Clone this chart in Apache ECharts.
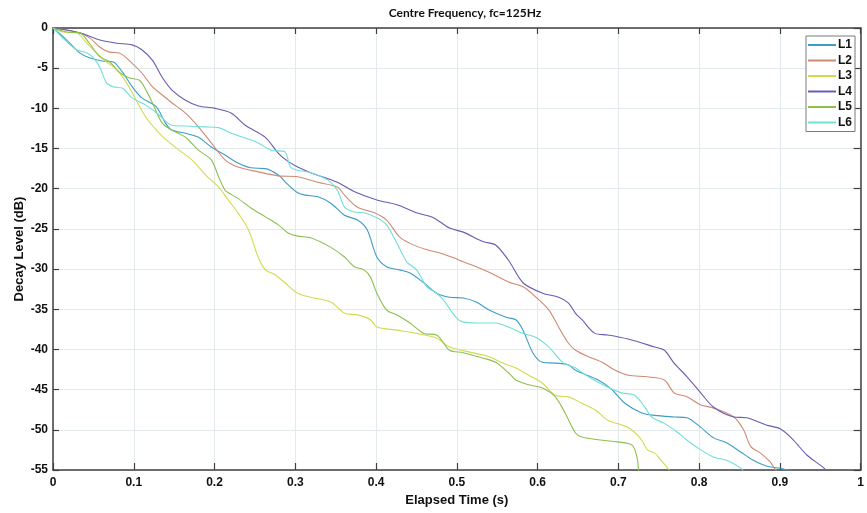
<!DOCTYPE html>
<html>
<head>
<meta charset="utf-8">
<script src="https://cdn.jsdelivr.net/npm/echarts@6/dist/echarts.min.js"></script>
<style>
html,body{margin:0;padding:0;background:#fff;}
#chart{width:867px;height:513px;}
</style>
</head>
<body>
<div id="chart"></div>
<script>
// Tick values
var xTicks = [0, 0.1, 0.2, 0.3, 0.4, 0.5, 0.6, 0.7, 0.8, 0.9, 1];
var yTicks = [0, -5, -10, -15, -20, -25, -30, -35, -40, -45, -50, -55];
var seriesNames = ['L1', 'L2', 'L3', 'L4', 'L5', 'L6'];

// L1
var l1T = [0,0.017,0.033,0.045,0.061,0.074,0.086,0.098,0.110,0.128,0.139,0.147,0.164,0.180,0.196,0.213,0.229,0.245,0.263,0.279,0.291,0.303,0.312,0.328,0.344,0.361,0.377,0.389,0.401,0.413,0.429,0.442,0.459,0.475,0.491,0.508,0.524,0.540,0.561,0.573,0.582,0.594,0.606,0.622,0.638,0.647,0.675,0.692,0.708,0.729,0.745,0.769,0.785,0.802,0.818,0.834,0.852,0.867,0.883,0.901,0.915];
var l1Y = [0,-1.5,-3.1,-3.7,-4.1,-4.2,-5.5,-7.3,-8.7,-9.8,-11.8,-12.7,-13.1,-13.6,-14.8,-15.8,-16.8,-17.4,-17.5,-18.3,-19.5,-20.5,-20.8,-21.0,-21.8,-23.3,-23.9,-25.1,-28.5,-29.7,-30.1,-30.5,-31.7,-33.0,-33.5,-33.6,-34.1,-35.1,-36.0,-36.3,-37.6,-40.4,-41.6,-41.7,-41.9,-42.6,-43.8,-45.0,-46.7,-47.9,-48.2,-48.4,-48.5,-49.7,-51.0,-51.6,-52.8,-53.8,-54.5,-54.8,-55.2];
// L2
var l2T = [0,0.029,0.045,0.058,0.070,0.082,0.098,0.110,0.123,0.135,0.147,0.164,0.180,0.196,0.213,0.229,0.254,0.279,0.303,0.328,0.352,0.361,0.377,0.398,0.413,0.429,0.442,0.463,0.479,0.496,0.508,0.524,0.540,0.564,0.582,0.598,0.614,0.626,0.638,0.647,0.663,0.680,0.696,0.712,0.736,0.757,0.769,0.785,0.802,0.818,0.843,0.855,0.864,0.876,0.888,0.894,0.898];
var l2Y = [0,-0.5,-1.2,-2.4,-3.0,-3.1,-4.4,-5.6,-7.3,-8.3,-9.3,-10.6,-12.3,-14.3,-16.4,-17.3,-17.9,-18.4,-18.5,-19.2,-19.8,-20.8,-22.3,-23.0,-23.9,-26.0,-26.8,-27.6,-28.0,-28.6,-29.1,-29.7,-30.4,-31.6,-32.2,-33.5,-35.1,-37.2,-39.2,-40.1,-40.9,-41.6,-42.6,-43.2,-43.4,-43.8,-45.4,-45.9,-46.9,-47.3,-48.4,-50.0,-52.1,-52.9,-54.0,-54.9,-55.3];
// L3
var l3T = [0,0.012,0.029,0.042,0.054,0.066,0.079,0.091,0.103,0.115,0.128,0.140,0.156,0.172,0.189,0.205,0.217,0.229,0.242,0.254,0.263,0.275,0.287,0.303,0.319,0.344,0.361,0.377,0.393,0.401,0.426,0.450,0.475,0.491,0.515,0.540,0.557,0.573,0.589,0.606,0.622,0.638,0.655,0.671,0.687,0.704,0.712,0.720,0.729,0.736,0.745,0.753,0.763];
var l3Y = [0,-0.5,-0.6,-1.9,-3.1,-4.2,-5.2,-6.8,-9.0,-11.1,-12.7,-13.9,-15.2,-16.4,-18.3,-19.8,-21.4,-23.0,-25.1,-28.5,-30.1,-30.7,-31.7,-33.0,-33.5,-34.1,-35.5,-35.7,-36.3,-37.2,-37.6,-38.0,-38.6,-39.7,-40.3,-40.9,-41.7,-42.3,-43.2,-44.2,-45.7,-45.9,-46.7,-47.5,-48.8,-49.4,-49.7,-50.3,-51.3,-52.5,-52.9,-53.8,-55.0];
// L4
var l4T = [0,0.033,0.058,0.079,0.098,0.110,0.123,0.135,0.147,0.164,0.180,0.201,0.221,0.238,0.263,0.279,0.291,0.303,0.319,0.352,0.372,0.401,0.426,0.450,0.471,0.491,0.508,0.533,0.548,0.564,0.582,0.606,0.626,0.638,0.647,0.655,0.671,0.687,0.712,0.745,0.757,0.769,0.785,0.802,0.818,0.843,0.859,0.883,0.901,0.917,0.933,0.950,0.956];
var l4Y = [0,-0.6,-1.5,-1.9,-2.1,-2.7,-4.0,-6.1,-7.7,-9.0,-9.7,-10.0,-10.6,-12.1,-13.6,-15.6,-16.6,-17.3,-18.0,-19.2,-20.3,-21.4,-22.0,-23.0,-23.6,-24.9,-25.4,-26.6,-27.0,-28.9,-31.7,-33.0,-33.5,-34.2,-35.5,-36.3,-38.0,-38.2,-38.7,-39.7,-40.1,-41.7,-43.4,-45.4,-47.2,-48.4,-48.5,-49.4,-49.9,-51.3,-53.1,-54.4,-54.9];
// L5
var l5T = [0,0.017,0.033,0.045,0.058,0.070,0.082,0.094,0.107,0.115,0.123,0.135,0.147,0.164,0.180,0.196,0.205,0.213,0.217,0.229,0.245,0.263,0.279,0.291,0.303,0.319,0.344,0.361,0.373,0.385,0.393,0.401,0.413,0.426,0.442,0.459,0.475,0.491,0.508,0.533,0.548,0.564,0.573,0.589,0.606,0.622,0.634,0.647,0.655,0.680,0.699,0.717,0.723,0.725];
var l5Y = [0,-0.5,-0.6,-1.9,-3.6,-4.2,-5.5,-6.2,-6.5,-7.7,-9.3,-11.8,-12.7,-13.6,-15.2,-16.4,-18.5,-20.2,-20.5,-21.2,-22.4,-23.5,-24.5,-25.5,-25.9,-26.1,-27.3,-28.5,-29.7,-30.1,-31.0,-33.0,-35.1,-35.7,-36.7,-38.0,-38.2,-40.1,-40.4,-41.1,-41.6,-42.9,-43.8,-44.4,-44.8,-45.9,-47.9,-50.4,-50.9,-51.3,-51.5,-51.9,-53.4,-55.2];
// L6
var l6T = [0,0.017,0.029,0.042,0.049,0.058,0.066,0.074,0.086,0.098,0.115,0.131,0.147,0.164,0.189,0.205,0.221,0.238,0.254,0.270,0.287,0.294,0.303,0.319,0.340,0.352,0.361,0.373,0.385,0.401,0.413,0.426,0.438,0.450,0.463,0.475,0.483,0.499,0.508,0.524,0.548,0.564,0.582,0.598,0.614,0.631,0.647,0.663,0.687,0.704,0.720,0.733,0.741,0.757,0.773,0.785,0.802,0.818,0.834,0.852,0.855];
var l6Y = [0,-1.7,-2.7,-3.1,-3.6,-4.9,-6.8,-7.3,-7.5,-8.7,-9.6,-10.8,-12.1,-12.2,-12.3,-12.4,-13.1,-13.7,-14.3,-15.2,-15.4,-17.3,-17.7,-18.0,-18.9,-20.2,-22.3,-22.9,-23.0,-23.6,-24.5,-26.8,-29.1,-30.1,-32.2,-33.0,-33.8,-36.0,-36.6,-36.7,-36.7,-37.2,-38.0,-38.5,-39.7,-41.6,-42.3,-43.4,-44.7,-45.4,-45.7,-47.2,-48.4,-49.2,-50.3,-51.3,-52.5,-53.4,-53.8,-54.8,-55.2];

var allT = [l1T, l2T, l3T, l4T, l5T, l6T];
var allY = [l1Y, l2Y, l3Y, l4Y, l5Y, l6Y];
var colors = ['#3f9cc6', '#cf8a72', '#d2da4e', '#6a5cb2', '#8cc04e', '#6fdfd8'];

function pairs(t, y) {
  var out = [];
  for (var i = 0; i < t.length; i++) out.push([t[i], y[i]]);
  return out;
}

var chart = echarts.init(document.getElementById('chart'), null, {renderer: 'canvas'});
var axisColor = '#404040';
var gridColor = '#e3eaec';
var labelFont = {color: '#111', fontFamily: 'Liberation Sans, Arial, sans-serif', fontWeight: 'bold', fontSize: 12};

var series = seriesNames.map(function (n, i) {
  return {
    name: n,
    type: 'line',
    data: pairs(allT[i], allY[i]),
    smooth: 0.3,
    showSymbol: false,
    symbol: 'none',
    lineStyle: {color: colors[i], width: 1.1},
    itemStyle: {color: colors[i]},
    emphasis: {disabled: true},
    clip: true,
    z: 3
  };
});

chart.setOption({
  animation: false,
  backgroundColor: '#ffffff',
  title: {
    text: 'Centre Frequency, fc=125Hz',
    left: 460, top: 2, textAlign: 'center',
    textStyle: {fontFamily: 'Lato, Open Sans, sans-serif', fontWeight: 'bold', fontSize: 12, color: '#111'}
  },
  legend: {
    data: seriesNames,
    orient: 'vertical',
    left: 806, top: 36,
    itemWidth: 28, itemHeight: 2, itemGap: 3.5,
    icon: 'rect',
    backgroundColor: '#ffffff',
    borderColor: '#7a7a7a', borderWidth: 1,
    padding: [3, 3, 3, 2],
    textStyle: {color: '#111', fontFamily: 'Liberation Sans, Arial, sans-serif', fontWeight: 'bold', fontSize: 12, padding: [0, 0, 0, -3]},
    selectedMode: false
  },
  grid: {left: 53, top: 28, width: 815, height: 442, containLabel: false},
  xAxis: [{
    type: 'value', min: 0, max: 1, interval: 0.1, position: 'bottom',
    name: 'Elapsed Time (s)', nameLocation: 'middle', nameGap: 22,
    nameTextStyle: {color: '#111', fontFamily: 'Liberation Sans, Arial, sans-serif', fontWeight: 'bold', fontSize: 13},
    axisLine: {show: true, onZero: false, lineStyle: {color: axisColor, width: 1.5}},
    axisTick: {show: true, inside: true, length: 7, lineStyle: {color: axisColor, width: 1.2}},
    axisLabel: Object.assign({margin: 7, formatter: function (v) { return xTicks.indexOf(Math.round(v*10)/10) >= 0 ? String(Math.round(v*10)/10) : ''; }}, labelFont),
    splitLine: {show: true, lineStyle: {color: gridColor, width: 1}}
  }, {
    type: 'value', min: 0, max: 1, interval: 0.1, position: 'top',
    axisLine: {show: true, onZero: false, lineStyle: {color: axisColor, width: 1.5}},
    axisTick: {show: true, inside: true, length: 6, lineStyle: {color: axisColor, width: 1.2}},
    axisLabel: {show: false},
    splitLine: {show: false}
  }],
  yAxis: [{
    type: 'value', min: -55, max: 0, interval: 5, position: 'left',
    name: 'Decay Level (dB)', nameLocation: 'middle', nameGap: 27, nameRotate: 90,
    nameMoveOverlap: false,
    nameTextStyle: {color: '#111', fontFamily: 'Liberation Sans, Arial, sans-serif', fontWeight: 'bold', fontSize: 13},
    axisLine: {show: true, onZero: false, lineStyle: {color: axisColor, width: 1.5}},
    axisTick: {show: true, inside: true, length: 6, lineStyle: {color: axisColor, width: 1.2}},
    axisLabel: Object.assign({margin: 5, formatter: function (v) { return yTicks.indexOf(v) >= 0 ? String(v) : ''; }}, labelFont),
    splitLine: {show: true, lineStyle: {color: gridColor, width: 1}}
  }, {
    type: 'value', min: -55, max: 0, interval: 5, position: 'right',
    axisLine: {show: true, onZero: false, lineStyle: {color: axisColor, width: 1.5}},
    axisTick: {show: true, inside: true, length: 7, lineStyle: {color: axisColor, width: 1.2}},
    axisLabel: {show: false},
    splitLine: {show: false}
  }],
  series: series
});
</script>
</body>
</html>
